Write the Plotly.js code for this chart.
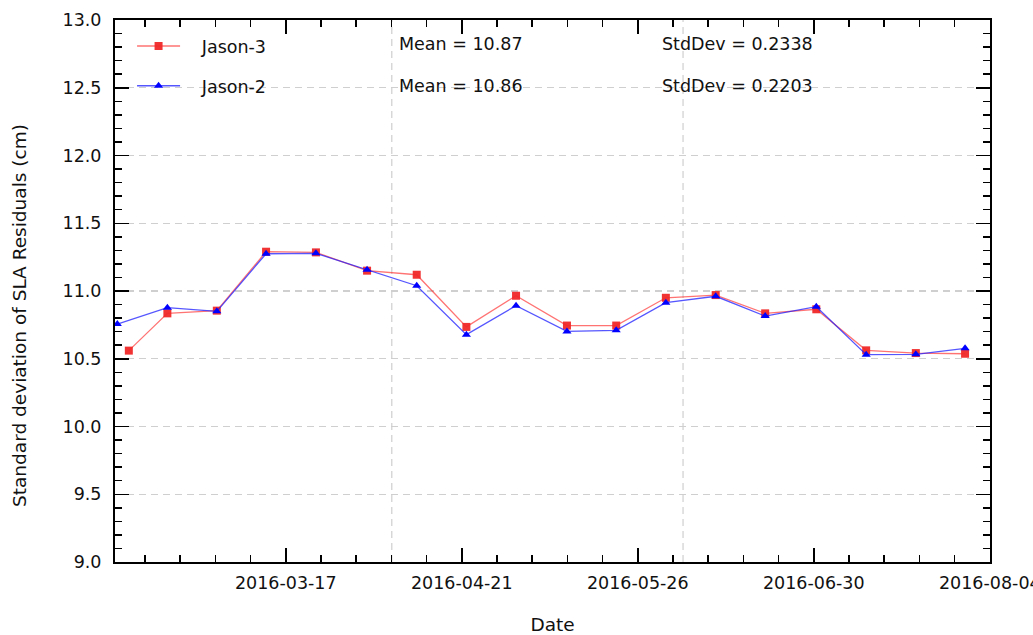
<!DOCTYPE html>
<html>
<head>
<meta charset="utf-8">
<script src="https://cdn.plot.ly/plotly-3.0.1.min.js"></script>
<style>html,body{margin:0;padding:0;background:#fff;}#chart{width:1033px;height:635px;}</style>
</head>
<body>
<div id="chart"></div>
<script>
// Jason-3 series
const j3Dates = ['2016-02-14 19:00','2016-02-22 11:00','2016-03-03 07:00','2016-03-13 02:00','2016-03-23 00:00','2016-04-02 04:00','2016-04-12 01:00','2016-04-21 22:00','2016-05-01 19:00','2016-05-11 22:00','2016-05-21 17:00','2016-05-31 14:00','2016-06-10 12:00','2016-06-20 08:00','2016-06-30 12:00','2016-07-10 10:00','2016-07-20 07:00','2016-07-30 02:00'];
const j3Values = [10.56,10.835,10.855,11.29,11.285,11.15,11.12,10.735,10.965,10.745,10.745,10.95,10.97,10.835,10.865,10.562,10.542,10.537];
// Jason-2 series
const j2Dates = ['2016-02-12 12:00','2016-02-22 11:00','2016-03-03 07:00','2016-03-13 02:00','2016-03-23 00:00','2016-04-02 04:00','2016-04-12 01:00','2016-04-21 22:00','2016-05-01 19:00','2016-05-11 22:00','2016-05-21 17:00','2016-05-31 14:00','2016-06-10 12:00','2016-06-20 08:00','2016-06-30 12:00','2016-07-10 10:00','2016-07-20 07:00','2016-07-30 02:00'];
const j2Values = [10.756,10.877,10.85,11.275,11.278,11.157,11.039,10.678,10.892,10.702,10.71,10.914,10.961,10.815,10.884,10.53,10.533,10.577];
// statistics text
const seriesNames = ['Jason-3','Jason-2'];
const meanLabels = ['Mean = 10.87','Mean = 10.86'];
const stdLabels = ['StdDev = 0.2338','StdDev = 0.2203'];
const yTitle = 'Standard deviation of SLA Residuals (cm)';
// extra vertical grid dates
const vGridDates = ['2016-04-07 02:00','2016-06-04 00:00'];

const FONT = 'DejaVu Sans, sans-serif';
const DAY = 86400000;
const pad = '\u00a0\u00a0\u00a0';

const traces = [
  {x: j3Dates, y: j3Values, name: pad + seriesNames[0], mode: 'lines+markers', legendgroup: 'a',
   line: {color: 'rgba(255,40,40,0.65)', width: 1.3},
   marker: {symbol: 'square', size: 8, color: 'rgba(240,40,40,0.95)'}},
  {x: j2Dates, y: j2Values, name: pad + seriesNames[1], mode: 'lines+markers', legendgroup: 'b',
   line: {color: 'rgba(30,30,255,0.75)', width: 1.3},
   marker: {symbol: 'triangle-up', size: 8, color: '#0000ff'}}
];

const annotations = [];
for (let i = 0; i < 2; i++) {
  const yy = i === 0 ? 0.9557 : 0.8782;
  annotations.push({xref: 'paper', yref: 'paper', x: 0.3223, y: yy, xanchor: 'left', yanchor: 'middle',
    text: meanLabels[i], showarrow: false, font: {family: FONT, size: 17.5, color: '#111'}});
  annotations.push({xref: 'paper', yref: 'paper', x: 0.6229, y: yy, xanchor: 'left', yanchor: 'middle',
    text: stdLabels[i], showarrow: false, font: {family: FONT, size: 17.5, color: '#111'}});
}
annotations.push({xref: 'paper', yref: 'paper', x: 0, y: 0.4539, xanchor: 'center', yanchor: 'middle',
  xshift: -95, textangle: -90, text: yTitle, showarrow: false,
  font: {family: FONT, size: 18.5, color: '#111'}});

const shapes = vGridDates.map(d => ({type: 'line', xref: 'x', yref: 'paper', x0: d, x1: d, y0: 0, y1: 1,
  line: {color: '#cfcfcf', width: 1.2, dash: '7px,5px'}, layer: 'below'}));

const layout = {
  width: 1033, height: 635,
  margin: {l: 115, r: 43, t: 20, b: 73},
  paper_bgcolor: '#fff', plot_bgcolor: '#fff',
  font: {family: FONT, size: 17.5, color: '#111'},
  showlegend: true,
  legend: {x: 0.0195, y: 0.985, xanchor: 'left', yanchor: 'top', bgcolor: 'rgba(0,0,0,0)',
    font: {family: FONT, size: 17.5, color: '#111'}, traceorder: 'grouped', tracegroupgap: 14, itemwidth: 43},
  xaxis: {
    type: 'date', range: ['2016-02-12 01:00', '2016-08-04 01:00'],
    tick0: '2016-03-17', dtick: 35 * DAY, tickformat: '%Y-%m-%d',
    ticks: 'inside', ticklen: 14, tickwidth: 1.5, tickcolor: '#000',
    minor: {ticks: 'inside', ticklen: 7, tickwidth: 1.5, tickcolor: '#000', dtick: 7 * DAY, tick0: '2016-03-17'},
    showline: true, linecolor: '#000', linewidth: 2, mirror: 'allticks',
    showgrid: false, zeroline: false,
    ticklabelstandoff: 4, ticklabeloverflow: 'allow',
    tickfont: {family: FONT, size: 17.5, color: '#111'},
    title: {text: 'Date', font: {family: FONT, size: 18.5, color: '#111'}, standoff: 28}
  },
  yaxis: {
    range: [9, 13], dtick: 0.5, tick0: 9, tickformat: '.1f',
    ticks: 'inside', ticklen: 14, tickwidth: 1.5, tickcolor: '#000',
    minor: {ticks: 'inside', ticklen: 7, tickwidth: 1.5, tickcolor: '#000', dtick: 0.1},
    showline: true, linecolor: '#000', linewidth: 2, mirror: 'allticks',
    showgrid: true, gridcolor: '#cfcfcf', gridwidth: 1.2, griddash: '7px,5px', zeroline: false,
    ticklabelstandoff: 8,
    tickfont: {family: FONT, size: 17.5, color: '#111'}
  },
  annotations: annotations,
  shapes: shapes
};

Plotly.newPlot('chart', traces, layout, {displayModeBar: false, staticPlot: true});
</script>
</body>
</html>
